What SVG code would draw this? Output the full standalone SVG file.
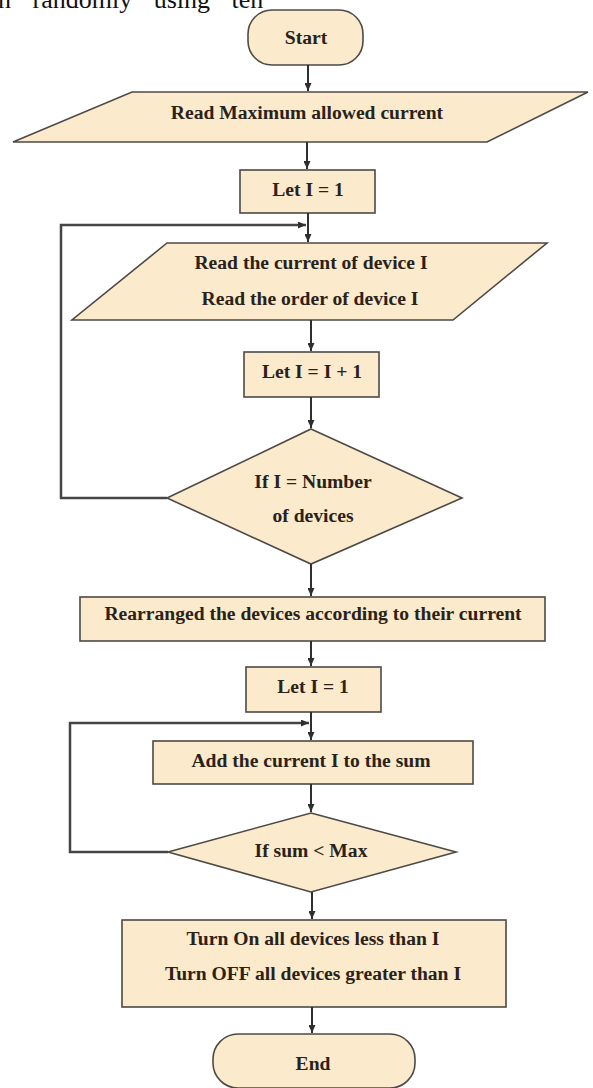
<svg xmlns="http://www.w3.org/2000/svg" width="593" height="1088" viewBox="0 0 593 1088">
<style>
.shape{fill:#FBEACB;stroke:#4d4a45;stroke-width:1.6}
.lbl{font-family:"Liberation Serif","Times New Roman",serif;font-weight:bold;font-size:19.6px;fill:#2a2218;text-anchor:middle}
.conn{fill:none;stroke:#2f2f2f;stroke-width:2}
.loop{fill:none;stroke:#454545;stroke-width:2.5}
.top{font-family:"Liberation Serif","Times New Roman",serif;font-size:26px;fill:#111;word-spacing:15px}
</style>
<defs>
<marker id="ah" markerUnits="userSpaceOnUse" markerWidth="8" markerHeight="7" refX="8" refY="3.5" orient="auto">
<path d="M0,0 L8,3.5 L0,7 z" fill="#2f2f2f"/>
</marker>
</defs>
<rect width="593" height="1088" fill="#ffffff"/>
<text class="top" x="-2" y="8">n randomly using ten</text>

<g id="start"><rect class="shape" x="248" y="10" width="115" height="55" rx="24"/><text class="lbl" x="306" y="44">Start</text></g>
<g id="readmax"><polygon class="shape" points="132,92 588,92 487,142 13,142"/><text class="lbl" x="307" y="119">Read Maximum allowed current</text></g>
<g id="let1"><rect class="shape" x="240" y="170" width="135" height="43"/><text class="lbl" x="308" y="196">Let I = 1</text></g>
<g id="readdev"><polygon class="shape" points="167,243 547,243 453,320 72,320"/><text class="lbl" x="311" y="269">Read the current of device I</text><text class="lbl" x="310" y="305">Read the order of device I</text></g>
<g id="inc"><rect class="shape" x="244" y="352" width="135" height="45"/><text class="lbl" x="312" y="378">Let I = I + 1</text></g>
<g id="cond1"><polygon class="shape" points="311,429 462,498 311,564 167,498"/><text class="lbl" x="313" y="488">If I = Number</text><text class="lbl" x="313" y="522">of devices</text></g>
<g id="rearr"><rect class="shape" x="80" y="597" width="465" height="44"/><text class="lbl" x="313" y="620">Rearranged the devices according to their current</text></g>
<g id="let2"><rect class="shape" x="246" y="667" width="135" height="45"/><text class="lbl" x="313" y="693">Let I = 1</text></g>
<g id="add"><rect class="shape" x="153" y="741" width="320" height="43"/><text class="lbl" x="311" y="767">Add the current I to the sum</text></g>
<g id="cond2"><polygon class="shape" points="311,813 456,852 311,892 168,852"/><text class="lbl" x="311" y="857">If sum &lt; Max</text></g>
<g id="turn"><rect class="shape" x="122" y="920" width="384" height="87"/><text class="lbl" x="313" y="945">Turn On all devices less than I</text><text class="lbl" x="313" y="980">Turn OFF all devices greater than I</text></g>
<g id="end"><rect class="shape" x="213" y="1034" width="202" height="54" rx="25"/><text class="lbl" x="313" y="1070">End</text></g>

<g id="connectors">
<line class="conn" x1="308" y1="65" x2="308" y2="91" marker-end="url(#ah)"/>
<line class="conn" x1="307" y1="142" x2="307" y2="169" marker-end="url(#ah)"/>
<line class="conn" x1="308" y1="213" x2="308" y2="242" marker-end="url(#ah)"/>
<polyline class="loop" points="167,498 61,498 61,225 306,225" marker-end="url(#ah)"/>
<line class="conn" x1="311" y1="320" x2="311" y2="351" marker-end="url(#ah)"/>
<line class="conn" x1="311" y1="397" x2="311" y2="428" marker-end="url(#ah)"/>
<line class="conn" x1="311" y1="564" x2="311" y2="596" marker-end="url(#ah)"/>
<line class="conn" x1="311" y1="641" x2="311" y2="666" marker-end="url(#ah)"/>
<line class="conn" x1="311" y1="712" x2="311" y2="740" marker-end="url(#ah)"/>
<polyline class="loop" points="168,852 70,852 70,723 309,723" marker-end="url(#ah)"/>
<line class="conn" x1="311" y1="784" x2="311" y2="812" marker-end="url(#ah)"/>
<line class="conn" x1="312" y1="892" x2="312" y2="919" marker-end="url(#ah)"/>
<line class="conn" x1="312" y1="1007" x2="312" y2="1033" marker-end="url(#ah)"/>
</g>
</svg>
